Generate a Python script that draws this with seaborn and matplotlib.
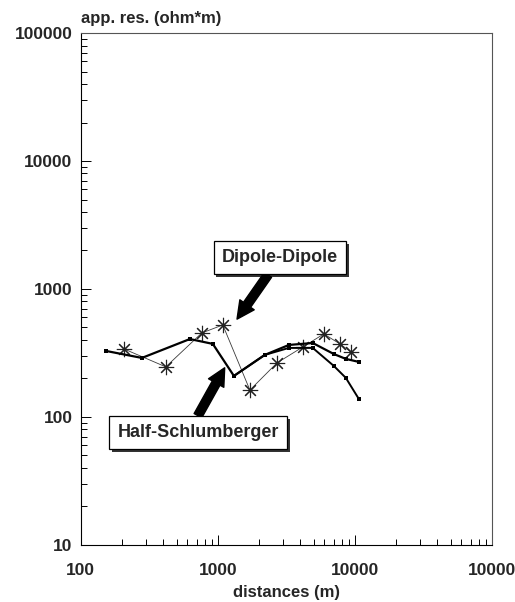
import numpy as np
import pandas as pd
import matplotlib
matplotlib.use("Agg")
import matplotlib.pyplot as plt
import matplotlib.patheffects as pe
from matplotlib.ticker import LogLocator, NullFormatter
import seaborn as sns

# ---- data ----
hs1_dist = [152, 279, 625, 919, 1310, 2200, 3300, 4930, 7030, 8590, 10700]
hs1_res = [328, 289, 406, 372, 209, 305, 365, 378, 310, 284, 269]

hs2_dist = [1310, 2200, 3300, 4930, 7030, 8590, 10700]
hs2_res = [209, 305, 346, 346, 250, 202, 138]

dd_dist = [206, 417, 764, 1087, 1714, 2700, 4170, 5940, 7780, 9350]
dd_res = [340, 246, 453, 523, 162, 264, 352, 445, 372, 322]

x_ticks = [100, 1000, 10000, 100000]
x_tick_labels = ["100", "1000", "10000", "10000"]
y_ticks = [10, 100, 1000, 10000, 100000]
y_tick_labels = ["10", "100", "1000", "10000", "100000"]

sns.set_theme(style="white")
plt.rcParams['font.family'] = ['Liberation Sans', 'DejaVu Sans']

fig = plt.figure(figsize=(5.15, 6.02), dpi=100)
ax = fig.add_axes([0.157, 0.095, 0.798, 0.850])

hs1 = pd.DataFrame({"dist": hs1_dist, "res": hs1_res})
hs2 = pd.DataFrame({"dist": hs2_dist, "res": hs2_res})
dd = pd.DataFrame({"dist": dd_dist, "res": dd_res})

sns.lineplot(data=dd, x="dist", y="res", ax=ax, color="#3a3a3a", lw=0.6,
             marker=(8, 2, 0), markersize=11, markeredgewidth=0.8,
             markeredgecolor="#222222", estimator=None, sort=False)
sns.lineplot(data=hs1, x="dist", y="res", ax=ax, color="black", lw=1.6,
             marker="s", markersize=3.5, markeredgewidth=0,
             estimator=None, sort=False)
sns.lineplot(data=hs2, x="dist", y="res", ax=ax, color="black", lw=1.4,
             marker="s", markersize=3.5, markeredgewidth=0,
             estimator=None, sort=False)

ax.set_xscale("log")
ax.set_yscale("log")
ax.set_xlim(100, 100000)
ax.set_ylim(10, 100000)

ax.set_xticks(x_ticks)
ax.set_xticklabels(x_tick_labels, fontsize=12.5, fontweight="bold")
ax.set_yticks(y_ticks)
ax.set_yticklabels(y_tick_labels, fontsize=12.5, fontweight="bold")
ax.xaxis.set_minor_locator(LogLocator(base=10, subs=np.arange(2, 10)))
ax.yaxis.set_minor_locator(LogLocator(base=10, subs=np.arange(2, 10)))
ax.xaxis.set_minor_formatter(NullFormatter())
ax.yaxis.set_minor_formatter(NullFormatter())
ax.tick_params(which="both", direction="in", top=False, right=False,
               bottom=True, left=True, color="black", width=0.7)
ax.tick_params(axis="x", which="major", length=7, pad=13)
ax.tick_params(axis="y", which="major", length=7, pad=6)
ax.tick_params(which="minor", length=4)

for side in ["left", "bottom"]:
    ax.spines[side].set_color("black")
    ax.spines[side].set_linewidth(0.8)
for side in ["top", "right"]:
    ax.spines[side].set_color("#555555")
    ax.spines[side].set_linewidth(0.8)

ax.set_xlabel("distances (m)", fontsize=12, fontweight="bold", labelpad=5)
ax.set_ylabel("")
ax.text(0.0, 1.014, "app. res. (ohm*m)", transform=ax.transAxes,
        fontsize=12, fontweight="bold", ha="left", va="bottom")

shadow = [pe.withSimplePatchShadow(offset=(2, -2), shadow_rgbFace="black", alpha=0.8)]
box = dict(boxstyle="square,pad=0.45", fc="white", ec="black", lw=0.9)
arrow_dd = dict(arrowstyle="simple,head_length=0.9,head_width=0.9,tail_width=0.45",
                fc="black", ec="black", mutation_scale=14, shrinkA=0, shrinkB=0,
                relpos=(0.45, 0.0))
arrow_hs = dict(arrowstyle="simple,head_length=0.9,head_width=0.9,tail_width=0.45",
                fc="black", ec="black", mutation_scale=14, shrinkA=0, shrinkB=0,
                relpos=(0.47, 1.0))

t1 = ax.annotate("Dipole-Dipole", xy=(0.380, 0.441), xytext=(0.484, 0.561),
                 xycoords="axes fraction", textcoords="axes fraction",
                 ha="center", va="center", fontsize=13, fontweight="bold",
                 bbox=box, arrowprops=arrow_dd)
t2 = ax.annotate("Half-Schlumberger", xy=(0.350, 0.346), xytext=(0.285, 0.219),
                 xycoords="axes fraction", textcoords="axes fraction",
                 ha="center", va="center", fontsize=13, fontweight="bold",
                 bbox=box, arrowprops=arrow_hs)
for t in (t1, t2):
    t.get_bbox_patch().set_path_effects(shadow)

fig.savefig("out.png", dpi=100)
